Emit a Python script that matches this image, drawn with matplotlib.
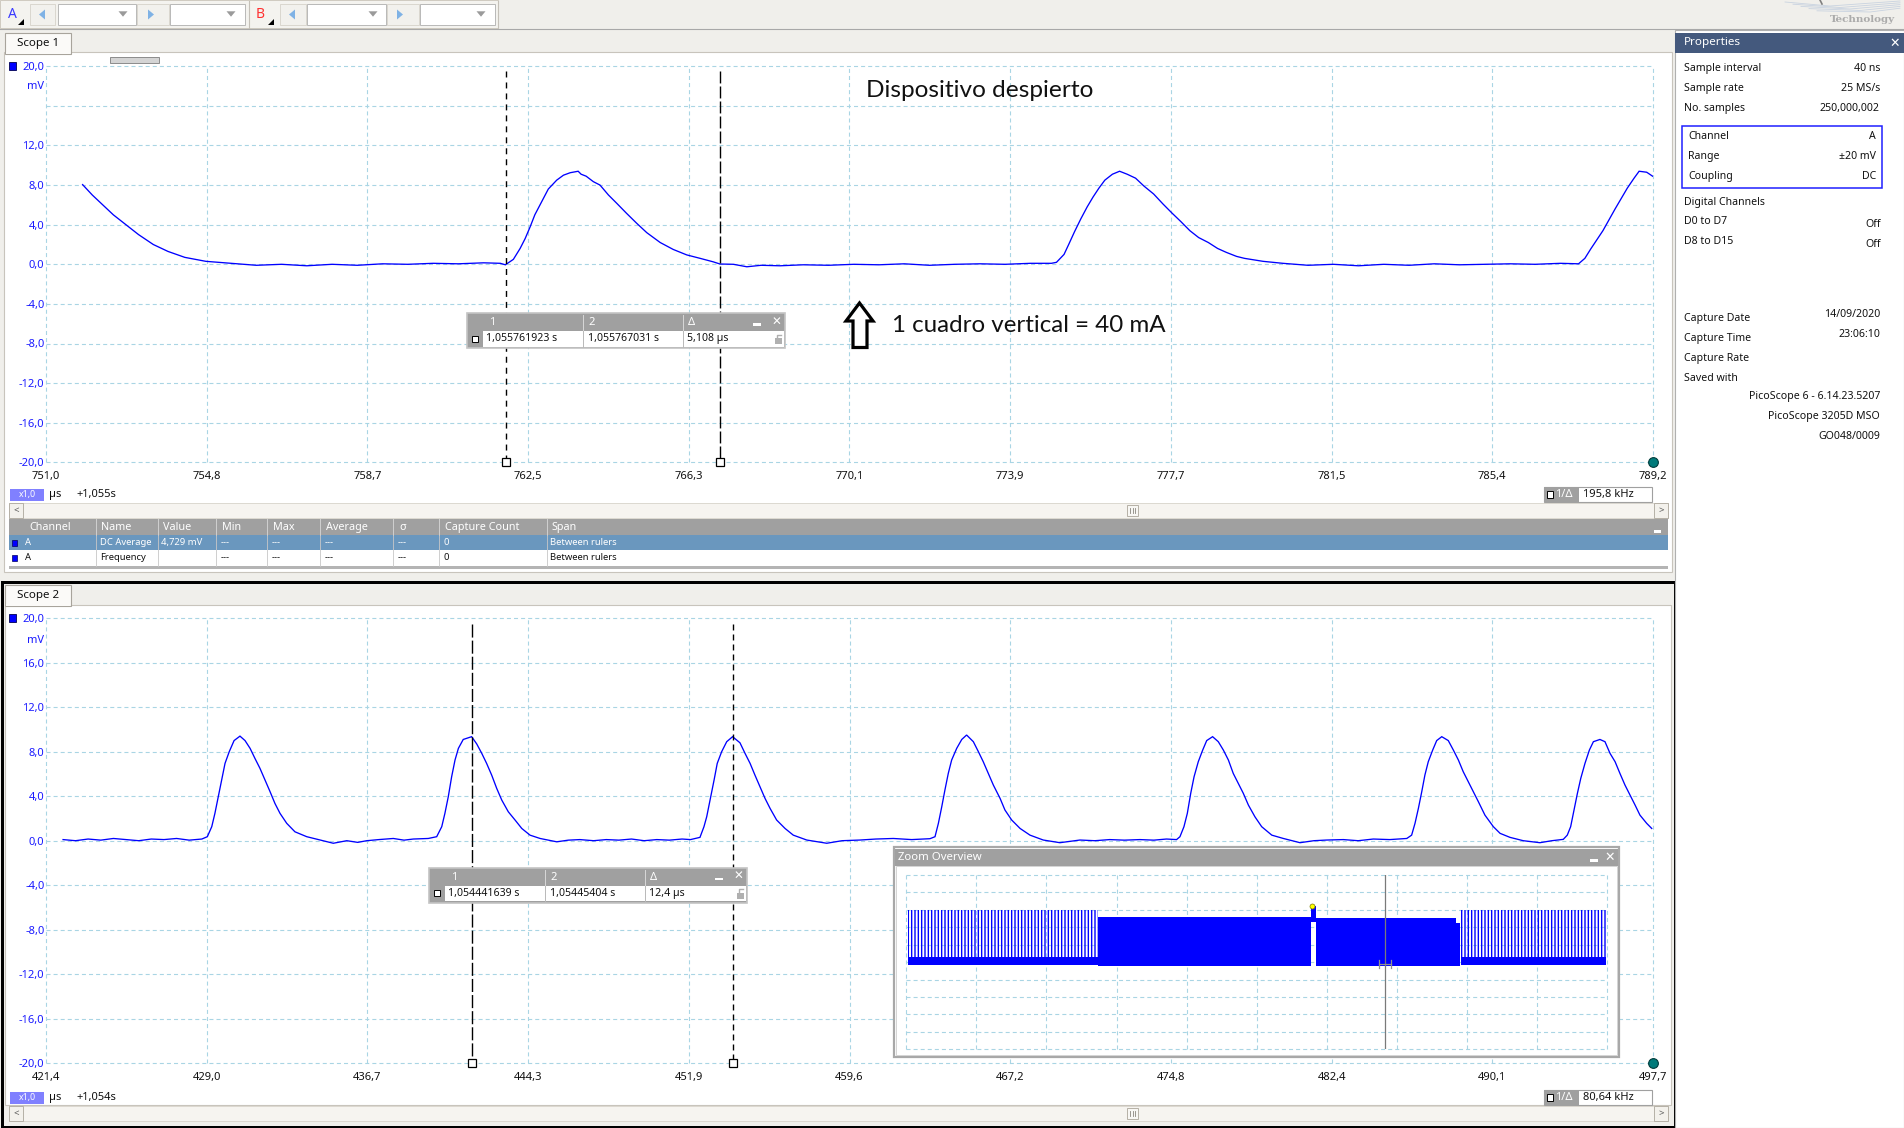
import numpy as np
import matplotlib
matplotlib.use("Agg")
import matplotlib.pyplot as plt
from matplotlib.patches import Rectangle, Polygon

plt.rcParams['font.family'] = ['Noto Sans', 'DejaVu Sans']
plt.rcParams['lines.scale_dashes'] = False
plt.rcParams['hatch.linewidth'] = 1.0

# ---------------- data ----------------
# Scope 1 (top) : time in µs (+1,055 s), current-probe voltage in mV
top_xlabels = ["751,0", "754,8", "758,7", "762,5", "766,3", "770,1",
               "773,9", "777,7", "781,5", "785,4", "789,2"]
top_xlim = (751.0, 789.2)
top_t = [751.87, 752.10, 752.35, 752.60, 752.90, 753.20, 753.55, 753.90, 754.30,
         754.80, 755.40, 756.00, 756.60, 757.20, 757.80, 758.40, 759.00, 759.60,
         760.20, 760.80, 761.40, 761.80, 761.92,
         762.11, 762.27, 762.39, 762.51, 762.62, 762.78, 762.94, 763.14, 763.30,
         763.46, 763.65, 763.72, 763.84, 764.01, 764.17, 764.37, 764.57, 764.80,
         765.04, 765.28, 765.60, 765.91, 766.23, 766.55, 766.86, 767.02, 767.34,
         767.66, 768.00, 768.45, 769.00, 769.60, 770.20, 770.80, 771.40, 772.00,
         772.60, 773.20, 773.80, 774.40, 774.90,
         775.02, 775.20, 775.31, 775.45, 775.60, 775.75, 775.89, 776.03, 776.17,
         776.35, 776.52, 776.70, 776.90, 777.10, 777.33, 777.55, 777.76, 777.98,
         778.19, 778.40, 778.63, 778.85, 779.06, 779.30, 779.49, 779.93, 780.40,
         781.00, 781.60, 782.20, 782.80, 783.40, 784.00, 784.60, 785.20, 785.80,
         786.40, 787.00, 787.43, 787.58, 787.72, 788.01, 788.30, 788.59, 788.75,
         788.87, 789.05, 789.19]
top_v = [8.05, 7.0, 6.0, 5.0, 4.0, 3.0, 2.0, 1.3, 0.7,
         0.3, 0.1, -0.1, 0.0, -0.15, 0.0, -0.1, 0.05, 0.0,
         0.1, 0.05, 0.15, 0.1, -0.05,
         0.5, 1.6, 2.6, 3.8, 5.0, 6.3, 7.6, 8.5, 9.0,
         9.25, 9.4, 9.1, 8.9, 8.35, 8.0, 7.0, 6.15, 5.15,
         4.15, 3.2, 2.2, 1.5, 0.95, 0.6, 0.25, 0.03, 0.0,
         -0.25, -0.1, -0.15, -0.05, -0.1, 0.0, -0.05, 0.05, -0.1,
         0.0, 0.05, 0.0, 0.1, 0.1,
         0.2, 1.0, 2.0, 3.3, 4.6, 5.8, 6.8, 7.7, 8.5,
         9.1, 9.4, 9.1, 8.7, 7.9, 7.1, 6.1, 5.2, 4.3,
         3.4, 2.7, 2.2, 1.6, 1.2, 0.8, 0.6, 0.3, 0.1,
         -0.1, 0.0, -0.15, 0.0, -0.1, 0.05, -0.05, 0.0, 0.05,
         0.0, 0.1, 0.05, 0.6, 1.55, 3.4, 5.6, 7.7, 8.7,
         9.4, 9.3, 8.9]
top_rulers = [761.923, 767.031]
top_readout = ["1,055761923 s", "1,055767031 s", "5,108 µs"]
top_freq = "195,8 kHz"
top_offset = "+1,055s"

# Scope 2 (bottom)
bot_xlabels = ["421,4", "429,0", "436,7", "444,3", "451,9", "459,6",
               "467,2", "474,8", "482,4", "490,1", "497,7"]
bot_xlim = (421.4, 497.7)
bot_t = [422.21, 422.8, 423.4, 424.0, 424.6, 425.2, 425.8, 426.4, 427.0, 427.6, 428.2, 428.8,
         429.06, 429.27, 429.42, 429.58, 429.74, 429.90, 430.10, 430.33, 430.61, 430.85,
         431.09, 431.32, 431.56, 431.80, 432.04, 432.27, 432.51, 432.83, 433.22, 433.78,
         434.41, 435.04, 435.68, 436.2, 436.63, 437.2, 437.89, 438.4, 438.84, 439.55,
         439.95, 440.19, 440.34, 440.50, 440.66, 440.82, 440.98, 441.21, 441.61, 441.85,
         442.09, 442.32, 442.56, 442.80, 443.04, 443.35, 443.67, 443.99, 444.38, 444.86,
         445.65, 446.2, 446.75, 447.4, 448.0, 448.6, 449.2, 449.8, 450.4, 451.0, 451.6, 452.0,
         452.45, 452.64, 452.77, 452.96, 453.12, 453.27, 453.48, 453.72, 454.00, 454.35,
         454.59, 454.83, 455.06, 455.30, 455.54, 455.78, 456.09, 456.49, 456.88, 457.52,
         458.47, 459.2, 460.05, 460.8, 461.63, 462.5, 463.37,
         463.61, 463.77, 463.93, 464.08, 464.24, 464.40, 464.64, 464.88, 465.11, 465.43,
         465.67, 465.90, 466.14, 466.38, 466.70, 466.93, 467.25, 467.65, 468.12, 468.75,
         469.54, 470.49, 471.2, 471.9, 472.6, 473.34, 474.0, 474.6, 475.08,
         475.24, 475.43, 475.59, 475.75, 475.91, 476.11, 476.32, 476.51, 476.79, 477.06,
         477.30, 477.54, 477.77, 478.01, 478.25, 478.49, 478.80, 479.12, 479.60, 480.15,
         480.94, 481.6, 482.21, 483.0, 483.7, 484.42, 485.2, 486.01,
         486.24, 486.40, 486.56, 486.72, 486.87, 487.03, 487.24, 487.43, 487.67, 487.98,
         488.22, 488.46, 488.69, 488.93, 489.17, 489.41, 489.72, 490.12, 490.44, 490.91,
         491.54, 492.33, 492.9, 493.44,
         493.63, 493.79, 493.95, 494.11, 494.27, 494.47, 494.68, 494.87, 495.18, 495.42,
         495.66, 495.90, 496.13, 496.37, 496.61, 496.85, 497.08, 497.40, 497.64]
bot_v = [0.1, 0.0, 0.15, 0.05, 0.2, 0.1, 0.0, 0.15, 0.1, 0.2, 0.05, 0.15,
         0.36, 1.26, 2.46, 3.95, 5.45, 6.95, 8.0, 9.0, 9.4, 9.0,
         8.3, 7.4, 6.5, 5.45, 4.4, 3.35, 2.46, 1.56, 0.8, 0.36,
         0.06, -0.23, 0.0, -0.15, 0.0, 0.1, 0.2, 0.05, 0.15, 0.2,
         0.36, 1.26, 2.46, 3.95, 5.75, 7.25, 8.3, 9.1, 9.35, 8.7,
         7.85, 6.95, 5.9, 4.7, 3.65, 2.6, 1.86, 1.1, 0.5, 0.2,
         -0.1, 0.05, 0.1, 0.0, 0.1, 0.05, 0.15, 0.0, 0.1, 0.05, 0.15, 0.1,
         0.3, 1.26, 2.15, 3.95, 5.45, 6.95, 8.0, 8.9, 9.35, 8.8,
         7.85, 6.95, 5.9, 4.85, 3.8, 2.9, 1.86, 1.1, 0.5, 0.06,
         -0.23, 0.0, 0.06, 0.15, 0.2, 0.1, 0.18,
         0.36, 1.56, 3.05, 4.55, 6.05, 7.25, 8.3, 9.1, 9.5, 8.9,
         8.0, 7.1, 6.05, 5.0, 3.8, 2.76, 1.86, 1.1, 0.5, 0.06,
         -0.18, 0.06, 0.0, 0.1, 0.05, 0.1, 0.05, 0.15, 0.1,
         0.36, 1.26, 2.46, 4.25, 5.75, 7.1, 8.15, 9.0, 9.35, 8.9,
         8.15, 7.25, 6.05, 5.15, 4.25, 3.2, 2.15, 1.26, 0.5, 0.2,
         -0.18, 0.0, 0.06, 0.1, 0.0, 0.15, 0.1, 0.2,
         0.5, 1.56, 2.9, 4.4, 5.9, 7.1, 8.15, 9.0, 9.35, 9.0,
         8.15, 7.25, 6.2, 5.3, 4.4, 3.5, 2.3, 1.26, 0.66, 0.3,
         0.0, -0.18, 0.0, 0.12,
         0.5, 1.26, 2.76, 4.25, 5.6, 6.95, 8.15, 8.9, 9.1, 8.9,
         7.85, 7.1, 6.05, 5.0, 4.1, 3.2, 2.3, 1.56, 1.1]
bot_rulers = [441.639, 454.040]
bot_readout = ["1,054441639 s", "1,05445404 s", "12,4 µs"]
bot_freq = "80,64 kHz"
bot_offset = "+1,054s"

y_ticks = [20, 16, 12, 8, 4, 0, -4, -8, -12, -16, -20]
top_ylabels = ["20,0", "", "12,0", "8,0", "4,0", "0,0", "-4,0", "-8,0", "-12,0", "-16,0", "-20,0"]
bot_ylabels = ["20,0", "16,0", "12,0", "8,0", "4,0", "0,0", "-4,0", "-8,0", "-12,0", "-16,0", "-20,0"]

# Zoom overview (fraction of capture, mV)
ov_comb_start = [0.002, 0.791]
ov_comb_end = [0.274, 0.999]
ov_comb_top = [12.0, 12.0]
ov_block_start = [0.274, 0.584, 0.785]
ov_block_end = [0.578, 0.785, 0.790]
ov_block_top = [10.4, 10.1, 9.0]
ov_band = (-0.6, 1.1)
ov_spike = (0.578, 0.584, 9.3, 13.0)
ov_view_pos = 0.683

# Measurements table
tbl_headers = ["Channel", "Name", "Value", "Min", "Max", "Average", "σ", "Capture Count", "Span"]
tbl_row1 = ["A", "DC Average", "4,729 mV", "---", "---", "---", "---", "0", "Between rulers"]
tbl_row2 = ["A", "Frequency", "", "---", "---", "---", "---", "0", "Between rulers"]

# Properties panel
prop_top = [("Sample interval", "40 ns"), ("Sample rate", "25 MS/s"), ("No. samples", "250,000,002")]
prop_chan = [("Channel", "A"), ("Range", "±20 mV"), ("Coupling", "DC")]
prop_digital = [("D0 to D7", "Off"), ("D8 to D15", "Off")]
prop_capture = [("Capture Date", "14/09/2020"), ("Capture Time", "23:06:10"),
                ("Capture Rate", ""), ("Saved with", "")]
prop_saved = ["PicoScope 6 - 6.14.23.5207", "PicoScope 3205D MSO", "GO048/0009"]

# ---------------- styling ----------------
W, H = 1904, 1128
BG = '#f0efeb'
GRID = '#a9d5e4'
TRACE = '#0000ff'
YLAB = '#1a1aff'
GRAYH = '#a0a0a0'
PX = 0.72  # points per pixel at dpi 100

fig = plt.figure(figsize=(W / 100, H / 100), dpi=100)
fig.patch.set_facecolor(BG)


def full_axes():
    a = fig.add_axes([0, 0, 1, 1])
    a.set_xlim(0, W)
    a.set_ylim(H, 0)
    a.axis('off')
    return a


def px_axes(x0, y0, x1, y1):
    return fig.add_axes([x0 / W, 1 - y1 / H, (x1 - x0) / W, (y1 - y0) / H])


def rect(ax, x0, y0, x1, y1, fc, ec='none', lw=0.0, z=1, **kw):
    ax.add_patch(Rectangle((x0, y0), x1 - x0, y1 - y0, facecolor=fc, edgecolor=ec,
                           linewidth=lw, zorder=z, **kw))


def txt(ax, x, y, s, size=8, color='#111111', ha='left', va='center', z=5, **kw):
    ax.text(x, y, s, fontsize=size, color=color, ha=ha, va=va, zorder=z, **kw)


def tri(ax, cx, cy, direction, size, color, z=3):
    s = size
    if direction == 'down':
        pts = [(cx - s, cy - s * 0.6), (cx + s, cy - s * 0.6), (cx, cy + s * 0.6)]
    elif direction == 'left':
        pts = [(cx + s * 0.6, cy - s), (cx + s * 0.6, cy + s), (cx - s * 0.6, cy)]
    else:
        pts = [(cx - s * 0.6, cy - s), (cx - s * 0.6, cy + s), (cx + s * 0.6, cy)]
    ax.add_patch(Polygon(pts, closed=True, facecolor=color, edgecolor='none', zorder=z))


bg = full_axes()

# ---- toolbar ----
rect(bg, 0, 0, 498, 28, '#f4f3ef', '#cfcac0', 0.7)
bg.plot([0, W], [28.5, 28.5], color='#a8a8a8', lw=0.8)
for x0, x1 in [(58, 136), (170, 245), (307, 386), (420, 495)]:
    rect(bg, x0, 4, x1, 25, 'white', '#b8b8b8', 0.7, z=2)
for x in [123, 231, 373, 481]:
    tri(bg, x, 14, 'down', 4.5, '#9a9a9a')
for x0, x1 in [(30, 55), (137, 169), (280, 306), (387, 419)]:
    rect(bg, x0, 4, x1, 25, '#f2f1ed', '#d6d2ca', 0.6, z=2)
for x in [42, 292]:
    tri(bg, x, 14.5, 'left', 5, '#7fb2e5')
for x in [151, 400]:
    tri(bg, x, 14.5, 'right', 5, '#7fb2e5')
txt(bg, 8, 14, "A", 10, '#3a3aff')
txt(bg, 256, 14, "B", 10, '#ff3030')
for x in [22, 272]:
    bg.add_patch(Polygon([(x - 4, 25), (x + 2, 25), (x + 2, 19)], closed=True,
                         facecolor='black', edgecolor='none', zorder=3))
for x in [249, 498]:
    bg.plot([x, x], [1, 28], color='#c4c0b8', lw=0.8)

# ---- logo ----
for k in range(5):
    bg.plot([1785 + k * 8, 1830 + k * 10, 1900], [2 + k * 2.2, 6 + k * 1.5, 1 + k * 1.8],
            color='#c9d3e0', lw=0.6)
bg.plot([1820, 1822], [0, 4], color='#808080', lw=1.2)
txt(bg, 1862, 19.5, "Technology", 7.5, '#ababab', ha='center', family=['DejaVu Serif'],
    weight='bold')

# ---- Scope 1 panel ----
rect(bg, 4, 52, 1672, 572, 'white', '#c8c4bc', 0.8)
rect(bg, 5, 33, 71, 53.5, '#fbfaf8', '#a8a49c', 0.8, z=2)
rect(bg, 6, 52, 70, 54, '#fbfaf8', z=3)
txt(bg, 38, 43.5, "Scope 1", 8.3, '#111111', ha='center')
rect(bg, 110, 57, 159, 63, '#d4d4d4', '#8c8c8c', 0.7)

# ---- Scope 2 panel (active view, black frame) ----
rect(bg, 1.5, 581.5, 1675, 1126.5, BG, 'black', 3 * PX)
rect(bg, 5, 605, 1671, 1105, 'white', '#c8c4bc', 0.8)
rect(bg, 5, 585, 71, 605.5, '#fbfaf8', '#a8a49c', 0.8, z=2)
rect(bg, 6, 604, 70, 606, '#fbfaf8', z=3)
txt(bg, 38, 595.5, "Scope 2", 8.3, '#111111', ha='center')


def scrollbar(y0, y1):
    rect(bg, 9, y0, 1668, y1, '#f6f4f0', '#dcd8d0', 0.7)
    rect(bg, 9, y0, 23, y1, '#f3f1ec', '#b5b0a6', 0.7, z=2)
    rect(bg, 1654, y0, 1668, y1, '#f3f1ec', '#b5b0a6', 0.7, z=2)
    txt(bg, 16, (y0 + y1) / 2, "<", 7, '#555555', ha='center')
    txt(bg, 1661, (y0 + y1) / 2, ">", 7, '#555555', ha='center')
    rect(bg, 1127, y0 + 2, 1138, y1 - 2, '#f8f7f4', '#b5b0a6', 0.7, z=2)
    for dx in [-2.5, 0, 2.5]:
        bg.plot([1132.5 + dx] * 2, [y0 + 5, y1 - 5], color='#8a867e', lw=0.6, zorder=3)


scrollbar(503, 518)
scrollbar(1106, 1121)

# ---- measurements table ----
sep_x = [22, 96, 158, 216, 267, 320, 393, 439, 547]
head_x = [29, 101, 163, 222, 273, 326, 399, 445, 552]
row_x = [25, 100, 161, 221, 272, 325, 398, 443, 550]
rect(bg, 9, 519, 1668, 535, GRAYH)
rect(bg, 9, 535, 1668, 550, '#6a97be')
rect(bg, 9, 550, 1668, 566, 'white')
rect(bg, 9, 566, 1668, 568.5, '#b4b4b4')
for x in sep_x[1:]:
    bg.plot([x, x], [519, 535], color='#d0d0d0', lw=0.7, zorder=2)
    bg.plot([x, x], [535, 566], color='#c8c8c8', lw=0.6, zorder=2)
for s, x in zip(tbl_headers, head_x):
    txt(bg, x, 527.5, s, 7.8, 'white')
for s, x in zip(tbl_row1, row_x):
    txt(bg, x, 542.5, s, 6.8, 'white')
for s, x in zip(tbl_row2, row_x):
    txt(bg, x, 558, s, 6.8, '#111111')
for yc in [542.5, 558]:
    rect(bg, 12, yc - 3, 17, yc + 3, '#0000ff', '#000060', 0.5, z=3)
rect(bg, 1654, 530, 1661, 533, 'white', z=3)

# ---- properties panel ----
rect(bg, 1675, 30, 1904, 1128, 'white', '#b0b0b0', 0.8)
rect(bg, 1675, 33, 1904, 53, '#44597d')
txt(bg, 1684, 43, "Properties", 8.4, 'white', weight='bold')
txt(bg, 1895, 43, "✕", 9, 'white', ha='center', weight='bold')
for (lab, val), y in zip(prop_top, [68.3, 88.3, 108.3]):
    txt(bg, 1684, y, lab, 7.6)
    txt(bg, 1880, y, val, 7.6, ha='right')
rect(bg, 1682, 126, 1882, 187.5, 'none', '#1f1fff', 1.1)
for (lab, val), y in zip(prop_chan, [136.7, 156.7, 176.7]):
    txt(bg, 1688, y, lab, 7.6)
    txt(bg, 1876, y, val, 7.6, ha='right')
txt(bg, 1684, 202.3, "Digital Channels", 7.6)
for (lab, val), y in zip(prop_digital, [221.7, 241.7]):
    txt(bg, 1684, y, lab, 7.6)
    txt(bg, 1881, y + 2.5, val, 7.6, ha='right')
for (lab, val), y in zip(prop_capture, [318.3, 338.3, 358.3, 378.3]):
    txt(bg, 1684, y, lab, 7.6)
    if val:
        txt(bg, 1880, y - 3.5, val, 7.6, ha='right')
for s, y in zip(prop_saved, [396.7, 416.7, 436.7]):
    txt(bg, 1880, y, s, 7.6, ha='right')


# ---- scope bottom info lines ----
def info_line(yc, offset, freq):
    rect(bg, 10, yc - 6, 44, yc + 6, '#8080ff')
    txt(bg, 27, yc, "x1,0", 6.3, 'white', ha='center')
    txt(bg, 49, yc, "µs", 8, '#111111')
    txt(bg, 76, yc, offset, 8, '#111111')
    rect(bg, 1544, yc - 7.5, 1652, yc + 7.5, 'white', '#a0a0a0', 0.8)
    rect(bg, 1544, yc - 7.5, 1579, yc + 7.5, GRAYH)
    rect(bg, 1546.5, yc - 3.5, 1553, yc + 3, 'white', 'black', 0.7, z=3)
    txt(bg, 1555, yc, "1/Δ", 8, 'white')
    txt(bg, 1583, yc, freq, 8, '#111111')


info_line(494.5, top_offset, top_freq)
info_line(1097.5, bot_offset, bot_freq)


# ---- scope axes ----
def setup_scope(ax, xlim, xlabels, ylabels, t, v, rulers, dashes, y20_px):
    ax.set_xlim(*xlim)
    ax.set_ylim(-20, 20)
    ax.patch.set_visible(False)
    for s in ax.spines.values():
        s.set_visible(False)
    xt = np.linspace(xlim[0], xlim[1], len(xlabels))
    ax.set_xticks(xt)
    ax.set_xticklabels(xlabels)
    ax.set_yticks(y_ticks)
    ax.set_yticklabels(ylabels)
    ax.tick_params(axis='x', length=0, pad=6.2, labelsize=8, labelcolor='#111111')
    ax.tick_params(axis='y', length=0, pad=1.2, labelsize=8, labelcolor=YLAB)
    for x in xt:
        ax.axvline(x, color=GRID, lw=0.8, ls=(0, (2.9, 2.2)), zorder=0, clip_on=False)
    for y in y_ticks:
        ax.axhline(y, color=GRID, lw=0.8, ls=(0, (2.9, 2.2)), zorder=0, clip_on=False)
    ax.plot(t, v, color=TRACE, lw=0.95, zorder=3, solid_joinstyle='miter')
    for r, d in zip(rulers, dashes):
        ax.plot([r, r], [19.5, -20], color='black', lw=1.0, ls=(0, d), zorder=4,
                clip_on=False)
        ax.plot([r], [-20], marker='s', ms=6.3, mfc='white', mec='black', mew=0.9,
                zorder=5, clip_on=False)
    ax.plot([xlim[1]], [-20], marker='o', ms=7, mfc='#007a7a', mec='#003a3a', mew=0.8,
            zorder=5, clip_on=False)
    ax.annotate("mV", xy=(0, 18), xycoords=('axes fraction', 'data'), xytext=(-1.5, 0),
                textcoords='offset points', ha='right', va='center', fontsize=8,
                color=YLAB)
    rect(bg, 9, y20_px - 4, 15.5, y20_px + 4, '#0000ff', '#000050', 0.6, z=3)


ax1 = px_axes(46, 66.3, 1653, 462.3)
setup_scope(ax1, top_xlim, top_xlabels, top_ylabels, top_t, top_v, top_rulers,
            [(4.3, 3.6), (8.6, 2.2)], 66.3)
ax2 = px_axes(46, 618.2, 1653, 1063.2)
setup_scope(ax2, bot_xlim, bot_xlabels, bot_ylabels, bot_t, bot_v, bot_rulers,
            [(9.4, 2.2), (4.3, 2.9)], 618.2)

# ---- overlay: ruler readouts, annotations, zoom overview ----
ov = full_axes()


def readout(x0, y0, vals):
    w = 318
    rect(ov, x0, y0, x0 + w, y0 + 35, GRAYH, '#c4c4c4', 1.2)
    rect(ov, x0 + 16, y0 + 18, x0 + w - 1.5, y0 + 33.5, 'white', z=2)
    rect(ov, x0 + 5, y0 + 22.5, x0 + 11, y0 + 28.5, 'white', 'black', 0.7, z=3)
    for sx in [116, 216]:
        ov.plot([x0 + sx] * 2, [y0 + 2, y0 + 18], color='#d8d8d8', lw=0.7, zorder=3)
        ov.plot([x0 + sx] * 2, [y0 + 18, y0 + 33.5], color='#b8b8b8', lw=0.7, zorder=3)
    for s, dx in zip(["1", "2", "Δ"], [22, 121, 221]):
        txt(ov, x0 + dx, y0 + 9.5, s, 8, 'white')
    rect(ov, x0 + 286, y0 + 10, x0 + 294, y0 + 12.5, 'white', z=3)
    txt(ov, x0 + 309, y0 + 9, "✕", 8.5, 'white', ha='center', weight='bold')
    for s, dx in zip(vals, [19, 121, 220]):
        txt(ov, x0 + dx, y0 + 26, s, 7.6, '#111111')
    # lock icon
    rect(ov, x0 + 308, y0 + 25, x0 + 315, y0 + 31, '#b0b0b0', z=3)
    ov.plot([x0 + 309.5, x0 + 309.5, x0 + 313.5], [y0 + 25, y0 + 21.5, y0 + 21.5],
            color='#b0b0b0', lw=1, zorder=3)


readout(467, 313, top_readout)
readout(429, 867.5, bot_readout)

txt(ov, 980, 90.5, "Dispositivo despierto", 17.6, '#111111', ha='center',
    family=['Lato', 'DejaVu Sans'])
txt(ov, 892, 325, "1 cuadro vertical = 40 mA", 17.4, '#111111',
    family=['Lato', 'DejaVu Sans'])
ov.add_patch(Polygon([(859.5, 303), (873, 321), (867, 321), (867, 347.5), (853, 347.5),
                      (853, 321), (846, 321)], closed=True, facecolor='white',
                     edgecolor='black', linewidth=3.2 * PX, joinstyle='miter', zorder=4))

# zoom overview window
rect(ov, 893.5, 847, 1619, 1057, 'white', '#a8a8a8', 1.6)
rect(ov, 894.5, 848.5, 1618, 865.5, GRAYH, z=2)
txt(ov, 898, 857.5, "Zoom Overview", 8.2, 'white', weight='bold')
rect(ov, 1590, 859, 1598, 861.5, 'white', z=3)
txt(ov, 1610, 857, "✕", 9, 'white', ha='center', weight='bold')
rect(ov, 895.5, 866, 1617, 1055, 'white', '#d4d4d4', 0.7)

oax = px_axes(906.3, 875, 1607, 1049.3)
oax.set_xlim(0, 1)
oax.set_ylim(-20, 20)
oax.axis('off')
for x in np.linspace(0, 1, 11):
    oax.axvline(x, color=GRID, lw=0.8, ls=(0, (2.9, 2.2)), zorder=0, clip_on=False)
for y in y_ticks:
    oax.axhline(y, color=GRID, lw=0.8, ls=(0, (2.9, 2.2)), zorder=0, clip_on=False)
for xs, xe, top in zip(ov_comb_start, ov_comb_end, ov_comb_top):
    oax.add_patch(Rectangle((xs, ov_band[1]), xe - xs, top - ov_band[1], facecolor='none',
                            edgecolor=TRACE, hatch='|||||', linewidth=0, zorder=2))
    oax.add_patch(Rectangle((xs, ov_band[0]), xe - xs, ov_band[1] - ov_band[0],
                            facecolor=TRACE, edgecolor='none', zorder=2))
for xs, xe, top in zip(ov_block_start, ov_block_end, ov_block_top):
    oax.add_patch(Rectangle((xs, ov_band[0] - 0.3), xe - xs, top - ov_band[0] + 0.3,
                            facecolor=TRACE, edgecolor='none', zorder=2))
sx0, sx1, sy0, sy1 = ov_spike
oax.add_patch(Rectangle((sx0, sy0), sx1 - sx0, sy1 - sy0, facecolor=TRACE,
                        edgecolor='none', zorder=2))
oax.plot([sx0 + 0.001], [sy1], marker='o', ms=3.6, mfc='#ffff00', mec='#7a7a00', mew=0.5,
         zorder=4)
oax.plot([ov_view_pos, ov_view_pos], [-20, 20], color='#7a7a7a', lw=0.9, zorder=3)
oax.plot([ov_view_pos - 0.009, ov_view_pos + 0.009], [-0.4, -0.4], color='#909090',
         lw=0.9, zorder=3)
for dx in [-0.009, 0.009]:
    oax.plot([ov_view_pos + dx] * 2, [-1.4, 0.6], color='#909090', lw=0.9, zorder=3)

fig.savefig("out.png", dpi=100, facecolor=fig.get_facecolor())
